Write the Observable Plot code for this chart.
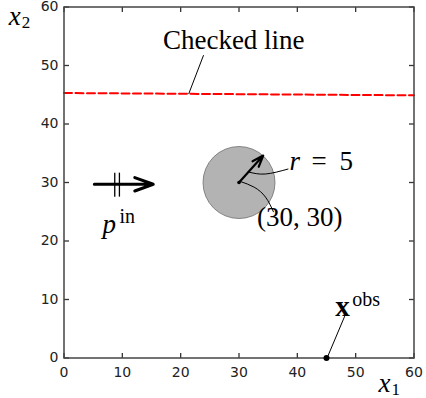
<!DOCTYPE html>
<html>
<head>
<meta charset="utf-8">
<script src="https://cdn.jsdelivr.net/npm/d3@7"></script>
<script src="https://cdn.jsdelivr.net/npm/@observablehq/plot@0.6"></script>
<style>
  body { margin: 0; background: #fff; }
  #chart svg { display: block; }
</style>
</head>
<body>
<div id="chart"></div>
<script>
// Axis ticks (both axes share the 0..60 domain)
const axisTicks = [0, 10, 20, 30, 40, 50, 60];
const axisMin = 0;
const axisMax = 60;

// The checked line (nearly horizontal, red dashed)
const checkedLine = [
  {x1: 0, y1: 45.3},
  {x1: 60, y1: 44.9}
];

// Circular obstacle: centre and radius
const obstacleCenter = [{x1: 30, x2: 30}];
const obstacleRadius = 5;
// Radius arrow drawn inside the obstacle
const radiusArrow = [{x1: 30, y1: 30, x2: 34.15, y2: 34.6}];

// Inflow arrow p^in with its double bar
const inflowArrow = [{x1: 5.2, y1: 29.7, x2: 15.3, y2: 29.7}];
const inflowBars = [8.7, 9.5];
const inflowBarSpan = [27.5, 31.6];

// Observation point on the lower boundary
const observation = [{x1: 45, x2: 0}];

// Leader lines from labels to their targets
const checkedLeader = [{x1: 23.9, y1: 51.7}, {x1: 21.4, y1: 45.2}];
const radiusLeader = [
  {x1: 31.6, y1: 31.8}, {x1: 34.5, y1: 31.45}, {x1: 38.4, y1: 32.3}
];
const centerLeader = [
  {x1: 30.15, y1: 30.2}, {x1: 32.6, y1: 29.2}, {x1: 34.55, y1: 27.5}, {x1: 35.9, y1: 25.0}
];
const observationLeader = [{x1: 45.1, y1: 0}, {x1: 48.1, y1: 7.1}];

// Plain serif labels
const plainLabels = [
  {x1: 29.1, y1: 52.8, text: "Checked line"},
  {x1: 40.4, y1: 22.6, text: "(30, 30)"}
];

// Pieces of the mathematical labels
const italicSymbols = [
  {x1: 38.66, y1: 32.2, text: "r"},
  {x1: 6.6, y1: 21.4, text: "p"},
  {x1: 53.9, y1: -5.85, text: "x"},
  {x1: -9.46, y1: 56.84, text: "x"}
];
const boldSymbols = [{x1: 46.5, y1: 7.26, text: "x"}];
const superscripts = [
  {x1: 6.6, y1: 21.4, text: "in"},
  {x1: 46.5, y1: 7.26, text: "obs"}
];
const subscripts = [
  {x1: 53.9, y1: -5.85, text: "1"},
  {x1: -9.46, y1: 56.84, text: "2"}
];
const radiusEquals = [{x1: 38.66, y1: 32.2, text: "="}];
const radiusValue = [{x1: 38.66, y1: 32.2, text: String(obstacleRadius)}];

const serif = "'Liberation Serif', 'DejaVu Serif', serif";
const sans = "'DejaVu Sans', sans-serif";

const textBase = {x: "x1", y: "y1", text: "text", lineAnchor: "bottom", fontFamily: serif, fill: "#000"};

// short inward tick drawn as a dot symbol (offset in pixels from the axis)
const tickSymbol = (dx, dy) => ({draw(context) { context.moveTo(0, 0); context.lineTo(dx, dy); }});
const tickMark = {fill: "none", stroke: "#333", strokeWidth: 1.3};

const chart = Plot.plot({
  width: 426,
  height: 398,
  marginLeft: 63.5,
  marginRight: 12.5,
  marginTop: 6.5,
  marginBottom: 40.5,
  style: {fontFamily: sans, fontSize: "14px", color: "#111", background: "#fff"},
  x: {domain: [axisMin, axisMax], label: null},
  y: {domain: [axisMin, axisMax], label: null},
  marks: [
    // obstacle disc
    Plot.dot(obstacleCenter, {x: "x1", y: "x2", r: 36, fill: "#b3b3b3", stroke: "#6f6f6f", strokeWidth: 0.8}),
    // red dashed checked line
    Plot.line(checkedLine, {x: "x1", y: "y1", stroke: "#ff0000", strokeWidth: 2, strokeDasharray: "8,3.5"}),
    // inflow arrow and its double bar
    Plot.arrow(inflowArrow, {x1: "x1", y1: "y1", x2: "x2", y2: "y2", stroke: "#000", strokeWidth: 3, headLength: 11, headAngle: 40}),
    Plot.ruleX(inflowBars, {x: d => d, y1: inflowBarSpan[0], y2: inflowBarSpan[1], stroke: "#000", strokeWidth: 1.3}),
    // radius arrow inside the obstacle
    Plot.arrow(radiusArrow, {x1: "x1", y1: "y1", x2: "x2", y2: "y2", stroke: "#000", strokeWidth: 2.2, headLength: 10, headAngle: 40}),
    Plot.dot(obstacleCenter, {x: "x1", y: "x2", r: 1.8, fill: "#000"}),
    // leader lines
    Plot.line(checkedLeader, {x: "x1", y: "y1", stroke: "#000", strokeWidth: 1}),
    Plot.line(radiusLeader, {x: "x1", y: "y1", stroke: "#000", strokeWidth: 1, curve: "natural"}),
    Plot.line(centerLeader, {x: "x1", y: "y1", stroke: "#000", strokeWidth: 1, curve: "natural"}),
    Plot.line(observationLeader, {x: "x1", y: "y1", stroke: "#000", strokeWidth: 1}),
    // inward tick marks on all four sides of the frame
    Plot.dot(axisTicks, {x: d => d, y: axisMin, symbol: tickSymbol(0, -5), ...tickMark}),
    Plot.dot(axisTicks, {x: d => d, y: axisMax, symbol: tickSymbol(0, 5), ...tickMark}),
    Plot.dot(axisTicks, {y: d => d, x: axisMin, symbol: tickSymbol(5, 0), ...tickMark}),
    Plot.dot(axisTicks, {y: d => d, x: axisMax, symbol: tickSymbol(-5, 0), ...tickMark}),
    Plot.frame({stroke: "#444", strokeWidth: 1.5}),
    // tick labels
    Plot.axisX(axisTicks, {anchor: "bottom", tickSize: 0, tickPadding: 9, color: "#222", fontSize: 14, label: null}),
    Plot.axisY(axisTicks, {anchor: "left", tickSize: 0, tickPadding: 5.5, color: "#222", fontSize: 14, label: null}),
    // observation point
    Plot.dot(observation, {x: "x1", y: "x2", r: 3, fill: "#000"}),
    // labels
    Plot.text(plainLabels, {...textBase, textAnchor: "middle", fontSize: 27}),
    Plot.text(italicSymbols, {...textBase, textAnchor: "start", fontSize: 27, fontStyle: "italic"}),
    Plot.text(boldSymbols, {...textBase, textAnchor: "start", fontSize: 29, fontWeight: "bold"}),
    Plot.text(superscripts, {...textBase, textAnchor: "start", fontSize: 20, dx: 17, dy: -10}),
    Plot.text(subscripts, {...textBase, textAnchor: "start", fontSize: 17, dx: 13, dy: 3}),
    Plot.text(radiusEquals, {...textBase, textAnchor: "start", fontSize: 27, dx: 22}),
    Plot.text(radiusValue, {...textBase, textAnchor: "start", fontSize: 27, dx: 50})
  ]
});

document.getElementById("chart").appendChild(chart);
</script>
</body>
</html>
